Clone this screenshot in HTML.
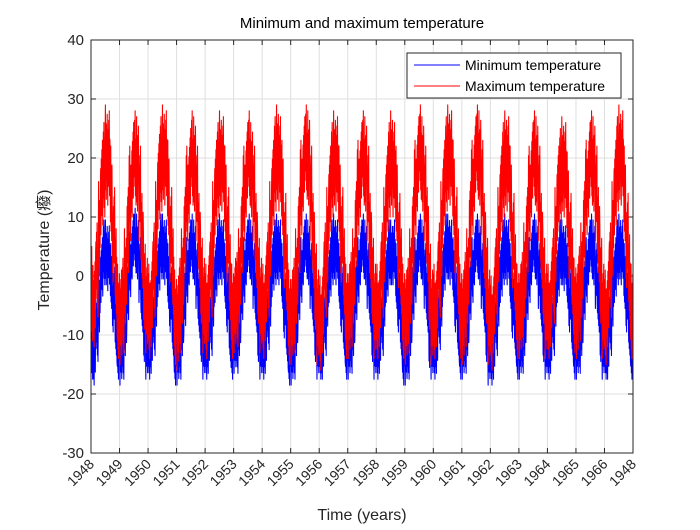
<!DOCTYPE html>
<html><head><meta charset="utf-8"><style>
body{margin:0;background:#fff}
svg text{font-family:"Liberation Sans","Noto Sans CJK SC",sans-serif}
</style></head><body>
<svg id="c" width="700" height="525" xmlns="http://www.w3.org/2000/svg"></svg>
<script>
const yTicks=[40,30,20,10,0,-10,-20,-30];
const xTickLabels=["1948","1949","1950","1951","1952","1953","1954","1955","1956","1957","1958","1959","1960","1961","1962","1963","1964","1965","1966","1948"];
const maxTempMonthly=[
[-3,-4,1,8,15,18,21,20,14,7,0,-6],
[-7,-5,0,7,14,18,20,19,14,6,-1,-5],
[-6,-4,1,8,16,19,21,20,15,7,0,-7],
[-8,-5,0,7,14,17,20,19,14,6,0,-5],
[-6,-3,1,8,15,18,20,19,14,7,-1,-6],
[-5,-4,0,7,14,18,20,18,14,6,0,-5],
[-6,-3,1,8,15,19,21,19,15,6,-1,-7],
[-7,-5,0,7,15,19,21,20,14,6,-1,-7],
[-8,-5,1,7,14,18,20,19,14,7,0,-6],
[-6,-4,0,8,15,18,20,19,14,6,0,-6],
[-6,-4,1,7,14,18,20,18,14,6,0,-6],
[-7,-5,0,7,15,19,21,19,14,7,-1,-7],
[-6,-4,1,8,15,19,21,20,15,7,0,-6],
[-7,-4,0,8,15,19,21,20,15,6,0,-7],
[-8,-5,0,7,14,18,20,19,14,6,-1,-6],
[-6,-4,1,7,14,18,20,19,14,6,0,-6],
[-6,-4,0,7,14,17,19,18,13,6,0,-5],
[-6,-3,1,8,15,18,20,19,14,7,0,-6],
[-7,-4,1,8,15,19,21,20,14,6,-1,-6]];
const minTempMonthly=[
[-12,-13,-9,-4,1,4,4,3,0,-4,-9,-12],
[-13,-12,-8,-3,2,5,6,5,1,-4,-9,-12],
[-12,-11,-8,-3,2,5,5,4,0,-4,-9,-13],
[-13,-12,-8,-4,1,4,5,4,0,-5,-9,-12],
[-12,-11,-8,-3,1,4,5,4,0,-4,-10,-12],
[-11,-11,-8,-3,1,4,5,4,0,-4,-9,-12],
[-12,-11,-7,-3,2,4,5,4,0,-5,-10,-13],
[-13,-12,-8,-3,1,4,5,4,0,-4,-9,-12],
[-12,-12,-8,-3,1,4,5,4,0,-4,-9,-12],
[-12,-11,-8,-3,1,4,5,4,0,-4,-9,-12],
[-12,-11,-8,-3,1,4,4,4,0,-4,-9,-13],
[-13,-12,-8,-3,1,4,5,4,0,-4,-10,-12],
[-12,-11,-7,-3,2,5,5,4,1,-4,-9,-12],
[-12,-11,-8,-3,1,4,5,4,0,-4,-9,-13],
[-13,-12,-8,-3,1,4,5,4,0,-5,-9,-12],
[-12,-11,-8,-3,1,4,5,4,0,-4,-9,-12],
[-12,-11,-8,-3,1,4,4,3,0,-4,-9,-12],
[-12,-11,-8,-3,1,4,5,4,0,-4,-9,-12],
[-12,-12,-8,-3,1,4,5,4,0,-4,-9,-12]];
const NS="http://www.w3.org/2000/svg",svg=document.getElementById('c');
const L=91,R=633,T=40,B=453;
const nYears=maxTempMonthly.length;
const xs=t=>L+(R-L)*t/nYears;
const ys=v=>T+(B-T)*(40-v)/70;
function el(tag,attrs,parent){const e=document.createElementNS(NS,tag);for(const k in attrs)e.setAttribute(k,attrs[k]);(parent||svg).appendChild(e);return e;}
el('rect',{x:L,y:T,width:R-L,height:B-T,fill:'#fff'});
const grid=el('g',{});


xTickLabels.forEach((lab,i)=>{
 const x=xs(i);
 el('line',{x1:x,x2:x,y1:T,y2:B,stroke:'#dfdfdf','stroke-width':1},grid);
 el('line',{x1:x,x2:x,y1:B,y2:B-5,stroke:'#262626'});
 el('line',{x1:x,x2:x,y1:T,y2:T+5,stroke:'#262626'});
 const t=el('text',{x:x+4,y:B+12,'font-size':14,fill:'#262626','text-anchor':'end',transform:`rotate(-45 ${x+4} ${B+12})`});
 
 
 t.textContent=lab;
});
yTicks.forEach(v=>{
 const y=ys(v);
 el('line',{x1:L,x2:R,y1:y,y2:y,stroke:'#dfdfdf','stroke-width':1},grid);
 el('line',{x1:L,x2:L+5,y1:y,y2:y,stroke:'#262626'});
 el('line',{x1:R,x2:R-5,y1:y,y2:y,stroke:'#262626'});
 const t=el('text',{x:L-7,y:y+5,'font-size':15,fill:'#262626','text-anchor':'end'});
 
 
 t.textContent=v;
});
const jit=[4,-3,5,-4,2,-5,3,-2];
function series(data,color,name,amp){
 let pts=[];let k=0;
 data.forEach((row,yi)=>row.forEach((v,m)=>{
  for(let s=0;s<8;s++){const t=yi+(m+(s+0.5)/8)/12;pts.push(xs(t).toFixed(2)+','+ys(v+amp*jit[(s+k)%8]).toFixed(2));}
  k+=3;
 }));
 const p=el('polyline',{points:pts.join(' '),fill:'none',stroke:color,'stroke-width':1.1,'stroke-linejoin':'round'});
 
 
}
series(minTempMonthly,'#0000ff','min-temperature-line',1.1);
series(maxTempMonthly,'#ff0000','max-temperature-line',1.6);
const ax=el('rect',{x:L,y:T,width:R-L,height:B-T,fill:'none',stroke:'#262626','stroke-width':1});


const title=el('text',{x:362,y:28,'font-size':15,fill:'#000','text-anchor':'middle'});


title.textContent='Minimum and maximum temperature';
const xt=el('text',{x:362,y:520,'font-size':16,fill:'#262626','text-anchor':'middle'});


xt.textContent='Time (years)';
const yt=el('text',{x:49,y:250,'font-size':16,fill:'#262626','text-anchor':'middle',transform:'rotate(-90 49 250)'});


yt.textContent='Temperature (癈)';
const lg=el('g',{});


el('rect',{x:407,y:53,width:214,height:45,fill:'#fff',stroke:'#262626','stroke-width':1},lg);
[['Minimum temperature','#0000ff',65],['Maximum temperature','#ff0000',86]].forEach(([lab,c,y])=>{
 const g=el('g',{},lg);
 
 
 el('line',{x1:414,x2:460,y1:y,y2:y,stroke:c,'stroke-width':1},g);
 const t=el('text',{x:465,y:y+5,'font-size':14,fill:'#000'},g);
 t.textContent=lab;
});
</script>
</body></html>
